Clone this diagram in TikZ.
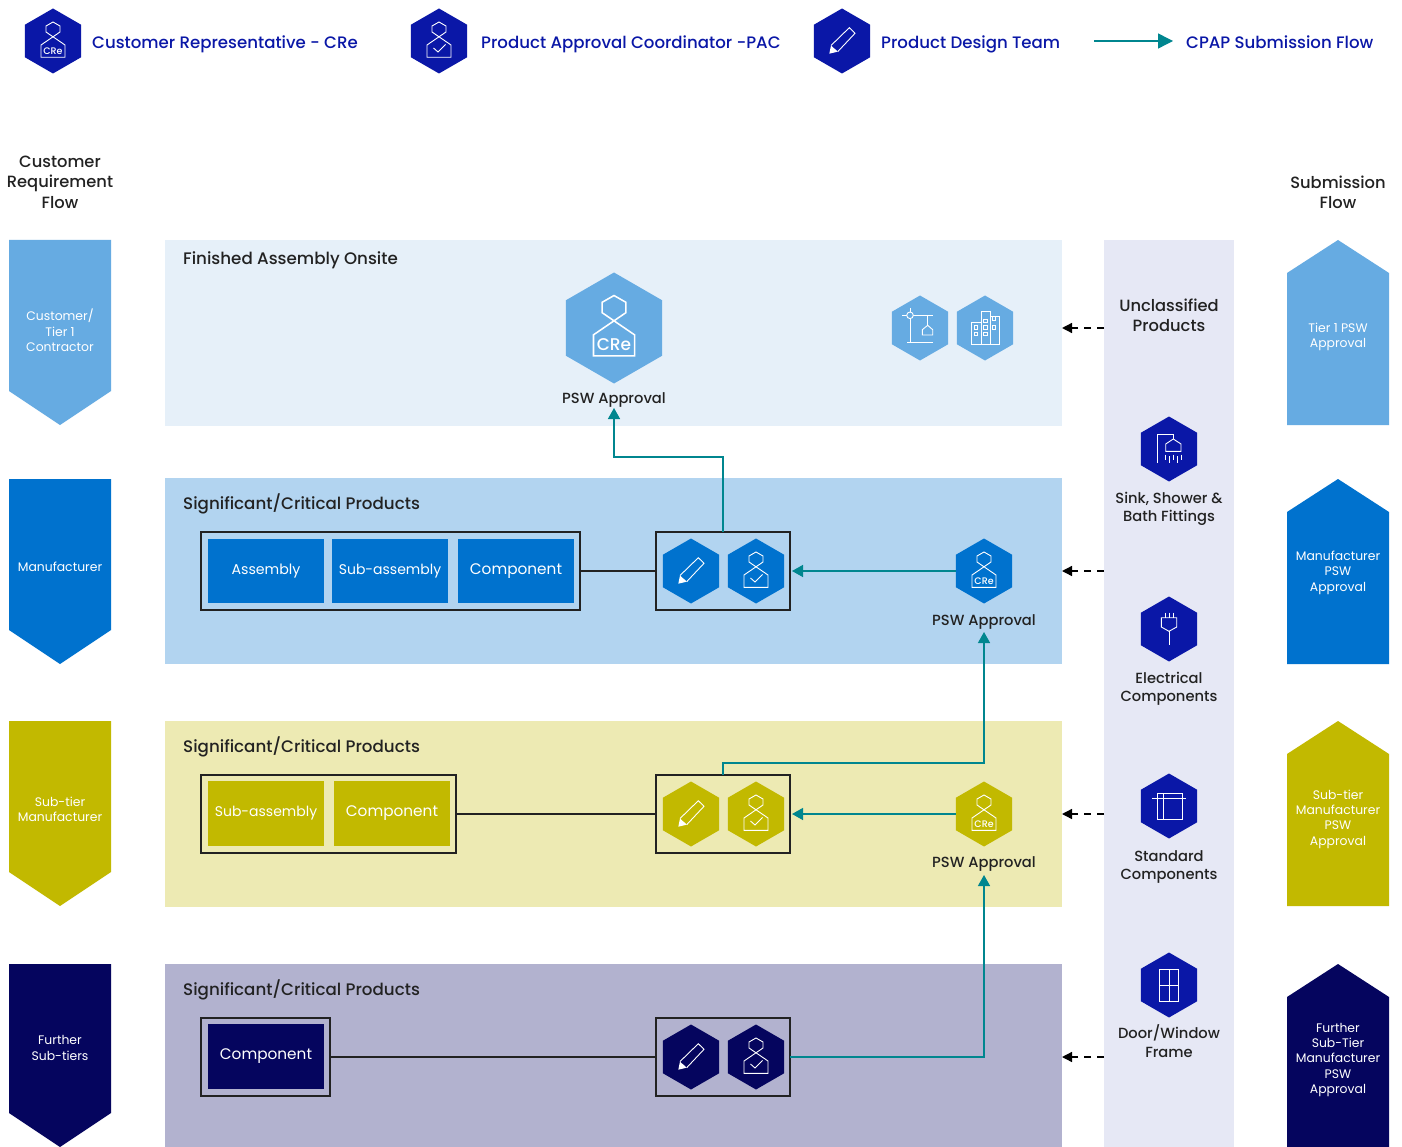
\documentclass[tikz,border=0pt]{standalone}
\usepackage{fontspec}
\setmainfont{Poppins}
\newfontfamily\medf{Poppins Medium}
\usetikzlibrary{shapes.geometric,arrows.meta}
\definecolor{cLight}{HTML}{66ABE2}
\definecolor{cBlue}{HTML}{0072CE}
\definecolor{cOlive}{HTML}{C2B900}
\definecolor{cNavy}{HTML}{05055E}
\definecolor{pLight}{HTML}{E6F0F9}
\definecolor{pBlue}{HTML}{B2D4F0}
\definecolor{pOlive}{HTML}{EDEAB3}
\definecolor{pNavy}{HTML}{B2B2CF}
\definecolor{cLegend}{HTML}{0A17A7}
\definecolor{cCol}{HTML}{E6E8F5}
\definecolor{cTeal}{HTML}{00868F}
\definecolor{cInk}{HTML}{222222}
\newcommand\fsz[1]{\fontsize{#1}{#1}\selectfont}
\newcommand\lowered[2]{\fsz{#1}\raisebox{-3.5pt}{#2}}
\tikzset{
 x=1pt,y=-1pt,
 hexn/.style={regular polygon,regular polygon sides=6,shape border rotate=30,inner sep=0,outer sep=0,minimum size=65pt,draw=none},
 iconl/.style={draw=white,line width=0.9pt,line join=miter},
 legendtxt/.style={anchor=base west,text=cLegend,inner sep=0,font=\medf\fsz{16.6}},
 title/.style={anchor=west,text=cInk,inner sep=0,font=\medf\fsz{16.7}},
 clabel/.style={align=center,text=cInk,inner sep=0,font=\medf\fsz{14.7}},
 flowlabel/.style={align=center,text=white,inner sep=0,font=\fsz{12.4}},
 head/.style={align=center,text=cInk,inner sep=0,font=\medf\fsz{16.3}},
 group/.style={draw=cInk,line width=1.4pt,inner sep=0,outer sep=0},
 part/.style={text=white,inner sep=0,outer sep=0,font=\fsz{14.5}},
 link/.style={draw=cInk,line width=1.4pt},
 teal/.style={draw=cTeal,line width=1.4pt,-{Triangle[length=11pt,width=12pt,fill=cTeal]}},
 dashlink/.style={draw=black,line width=1.4pt,dash pattern=on 7pt off 6pt,-{Triangle[length=10pt,width=10pt,fill=black]}},
}
\newcommand\IPerson[2]{\begin{scope}[shift={(#1.center)},scale=#2,iconl,line width=#2*0.9pt]
 \draw (0,-19) -- (7,-15) -- (7,-9) -- (-12,4) -- (-12,16.3) -- (12,16.3) -- (12,4) -- (-7,-9) -- (-7,-15) -- cycle;
\end{scope}}
\newcommand\ICre[3]{\IPerson{#1}{#2}\begin{scope}[shift={(#1.center)},scale=#2]
 \node[text=white,inner sep=0,font=\medf\fsz{#3}] (#1cre) at (0,9.8) {CRe};
\end{scope}}
\newcommand\ICheck[1]{\IPerson{#1}{1}\begin{scope}[shift={(#1.center)},iconl]
 \draw (-5.5,7) -- (-1,11) -- (6.5,3.5);
\end{scope}}
\newcommand\IPencil[1]{\begin{scope}[shift={(#1.center)},iconl]
 \draw (-11,4.5) -- (7.3,-13.3) -- (13,-7.7) -- (-4.3,10.7);
 \fill[white] (-12.7,12.7) -- (-11,4.5) -- (-9,6.5) -- (-6.5,8.5) -- (-4.3,10.7) -- cycle;
\end{scope}}
\newcommand\IShower[1]{\begin{scope}[shift={(#1.center)},iconl]
 \draw (-11.7,14) -- (-11.7,-15) -- (4.3,-15) -- (4.3,-10);
 \draw (4.3,-10) -- (-3.3,-5) -- (-3.3,2.3) -- (12,2.3) -- (12,-5) -- cycle;
 \foreach \dx/\a/\b in {-3.3/5.7/11,0/7/14,4/5.7/11,8/7/14,12/5.7/11}{\draw (\dx,\a) -- (\dx,\b);}
\end{scope}}
\newcommand\IPlug[1]{\begin{scope}[shift={(#1.center)},iconl]
 \foreach \dx in {-4,0,4}{\draw (\dx,-16.3) -- (\dx,-11.3);}
 \draw (-7.7,-11.3) -- (7.7,-11.3) -- (7.7,-2) -- (0,2.3) -- (-7.7,-2) -- cycle;
 \draw (0,2.3) -- (0,16.3);
\end{scope}}
\newcommand\IStd[1]{\begin{scope}[shift={(#1.center)},iconl]
 \draw (-16.7,-8) -- (16.7,-8);
 \draw (-11.7,-12.3) rectangle (13.7,13);
 \draw (-5.7,-12.3) -- (-5.7,13);
\end{scope}}
\newcommand\IDoor[1]{\begin{scope}[shift={(#1.center)},iconl]
 \draw (-9.3,-16) rectangle (9.3,16.3);
 \draw (0,-16) -- (0,16.3);
 \draw (-9.3,0) -- (9.3,0);
\end{scope}}
\newcommand\ICrane[1]{\begin{scope}[shift={(#1.center)},iconl]
 \draw (-10,-20) -- (-10,14.3);
 \draw (-12.7,14.3) -- (13.3,14.3);
 \draw (-17.7,-12.7) -- (13.3,-12.7);
 \draw[fill=cLight] (-10,-12.7) circle (3.3);
 \draw (7.7,-12.7) -- (7.7,-2.7);
 \draw (7.7,-2.7) -- (2.3,1.7) -- (2.3,7) -- (12.7,7) -- (12.7,1.7) -- cycle;
\end{scope}}
\newcommand\IBuild[1]{\begin{scope}[shift={(#1.center)},iconl]
 \draw (-13.3,-5.7) rectangle (-4,16);
 \draw (-4,-16.7) rectangle (5.3,16);
 \draw (5.3,-12) rectangle (14,16);
 \foreach \wx/\wy in {-9/-0.7,-9/6,0.3/-7.3,0.3/-0.7,0.3/6,9/-9.7,9/-0.7}{\draw (\wx-1.7,\wy-1.7) rectangle (\wx+1.7,\wy+1.7);}
\end{scope}}
\newcommand\Down[4]{\fill[#1] (9,#2) -- (111,#2) -- (111,#3) -- (60,#4) -- (9,#3) -- cycle;}
\newcommand\Up[4]{\fill[#1] (1338,#2) -- (1389,#3) -- (1389,#4) -- (1287,#4) -- (1287,#3) -- cycle;}
\begin{document}
\begin{tikzpicture}
\useasboundingbox (0,0) rectangle (1402,1147);
\fill[white] (0,0) rectangle (1402,1147);
% panels
\fill[pLight] (165,240) rectangle (1062,426);
\fill[pBlue] (165,478) rectangle (1062,664);
\fill[pOlive] (165,721) rectangle (1062,907);
\fill[pNavy] (165,964) rectangle (1062,1147);
\fill[cCol] (1104,240) rectangle (1234,1147);
% flow shapes
\Down{cLight}{240}{391}{425}
\Down{cBlue}{479}{630}{664}
\Down{cOlive}{721}{872}{906}
\Down{cNavy}{964}{1113}{1147}
\Up{cLight}{240}{273}{425}
\Up{cBlue}{479}{512}{664}
\Up{cOlive}{721}{754}{906}
\Up{cNavy}{964}{997}{1147}
% legend
\node[hexn,fill=cLegend] (lgA) at (53,41) {};
\ICre{lgA}{1}{9.5}
\node[legendtxt] (lgAt) at (92,48.7) {Customer Representative - CRe};
\node[hexn,fill=cLegend] (lgB) at (439,41) {};
\ICheck{lgB}
\node[legendtxt] (lgBt) at (481,48.7) {Product Approval Coordinator -PAC};
\node[hexn,fill=cLegend] (lgC) at (842,41) {};
\IPencil{lgC}
\node[legendtxt] (lgCt) at (881,48.7) {Product Design Team};
\node[legendtxt] (lgDt) at (1186,48.7) {CPAP Submission Flow};
\coordinate (lgDs) at (1094,41);
\coordinate (lgDe) at (1173,41);
\draw[draw=cTeal,line width=1.4pt,-{Triangle[length=15pt,width=15pt,fill=cTeal]}] (lgDs) -- (lgDe);
% heads
\node[head] (hL) at (60,182.5) {Customer\\[4pt]Requirement\\[4pt]Flow};
\node[head] (hR) at (1338,192.5) {Submission\\[4pt]Flow};
% flow labels
\node[flowlabel] (fl1) at (60,330.5) {Customer/\\[3pt]Tier 1\\[3pt]Contractor};
\node[flowlabel] (fl2) at (60,566.5) {Manufacturer};
\node[flowlabel] (fl3) at (60,809.5) {Sub-tier\\[3pt]Manufacturer};
\node[flowlabel] (fl4) at (60,1048) {Further\\[3pt]Sub-tiers};
\node[flowlabel] (fr1) at (1338,337) {Tier 1 PSW\\[3pt]Approval};
\node[flowlabel] (fr2) at (1338,572.5) {Manufacturer\\[3pt]PSW\\[3pt]Approval};
\node[flowlabel] (fr3) at (1338,819) {Sub-tier\\[3pt]Manufacturer\\[3pt]PSW\\[3pt]Approval};
\node[flowlabel] (fr4) at (1338,1060) {Further\\[3pt]Sub-Tier\\[3pt]Manufacturer\\[3pt]PSW\\[3pt]Approval};
% titles
\node[title] (t1) at (183,260) {Finished Assembly Onsite};
\node[title] (t2) at (183,504) {Significant/Critical Products};
\node[title] (t3) at (183,747) {Significant/Critical Products};
\node[title] (t4) at (183,990) {Significant/Critical Products};
% finished assembly
\node[hexn,fill=cLight,minimum size=111pt] (creA) at (614,328) {};
\ICre{creA}{1.71}{17}
\node[clabel] (pswA) at (614,400) {PSW Approval};
\coordinate (pswAtip) at (614,408);
\node[hexn,fill=cLight] (crane) at (920,328) {};
\ICrane{crane}
\node[hexn,fill=cLight] (build) at (985,328) {};
\IBuild{build}
% row 2
\node[group,minimum width=379pt,minimum height=78pt] (g2) at (390.5,571) {};
\node[part,fill=cBlue,minimum width=116pt,minimum height=64pt] (p21) at (266,571) {\lowered{14.2}{Assembly}};
\node[part,fill=cBlue,minimum width=116pt,minimum height=64pt] (p22) at (390,571) {\lowered{14}{Sub-assembly}};
\node[part,fill=cBlue,minimum width=116pt,minimum height=64pt] (p23) at (516,571) {\lowered{15.3}{Component}};
\node[group,minimum width=134pt,minimum height=78pt] (b2) at (723,571) {};
\node[hexn,fill=cBlue] (d2) at (691,571) {};
\IPencil{d2}
\node[hexn,fill=cBlue] (a2) at (756,571) {};
\ICheck{a2}
\node[hexn,fill=cBlue] (c2) at (984,571) {};
\ICre{c2}{1}{9.5}
\node[clabel] (psw2) at (984,622) {PSW Approval};
\coordinate (psw2tip) at (984,632);
% row 3
\node[group,minimum width=255pt,minimum height=78pt] (g3) at (328.5,814) {};
\node[part,fill=cOlive,minimum width=116pt,minimum height=65pt] (p31) at (266,813.5) {\lowered{14}{Sub-assembly}};
\node[part,fill=cOlive,minimum width=116pt,minimum height=65pt] (p32) at (392,813.5) {\lowered{15.3}{Component}};
\node[group,minimum width=134pt,minimum height=78pt] (b3) at (723,814) {};
\node[hexn,fill=cOlive] (d3) at (691,814) {};
\IPencil{d3}
\node[hexn,fill=cOlive] (a3) at (756,814) {};
\ICheck{a3}
\node[hexn,fill=cOlive] (c3) at (984,814) {};
\ICre{c3}{1}{9.5}
\node[clabel] (psw3) at (984,864) {PSW Approval};
\coordinate (psw3tip) at (984,875);
% row 4
\node[group,minimum width=129pt,minimum height=78pt] (g4) at (265.5,1057) {};
\node[part,fill=cNavy,minimum width=116pt,minimum height=65pt] (p41) at (266,1056.5) {\lowered{15.3}{Component}};
\node[group,minimum width=134pt,minimum height=78pt] (b4) at (723,1057) {};
\node[hexn,fill=cNavy] (d4) at (691,1057) {};
\IPencil{d4}
\node[hexn,fill=cNavy] (a4) at (756,1057) {};
\ICheck{a4}
% unclassified column
\node[head] (uc) at (1169,315.5) {Unclassified\\[4pt]Products};
\node[hexn,fill=cLegend] (s1) at (1169,449) {};
\IShower{s1}
\node[clabel] (s1t) at (1169,509) {Sink, Shower \&\\[3.4pt]Bath Fittings};
\node[hexn,fill=cLegend] (s2) at (1169,629) {};
\IPlug{s2}
\node[clabel] (s2t) at (1169,689) {Electrical\\[3.4pt]Components};
\node[hexn,fill=cLegend] (s3) at (1169,806) {};
\IStd{s3}
\node[clabel] (s3t) at (1169,867) {Standard\\[3.4pt]Components};
\node[hexn,fill=cLegend] (s4) at (1169,985) {};
\IDoor{s4}
\node[clabel] (s4t) at (1169,1041.5) {Door/Window\\[4.2pt]Frame};
% connectors
\draw[link] (g2.east) -- (b2.west);
\draw[link] (g3.east) -- (b3.west);
\draw[link] (g4.east) -- (b4.west);
\coordinate (e1) at (614,457);
\coordinate (e2) at (984,763);
\draw[teal] (b2.north) |- (e1) -- (pswAtip);
\draw[teal] (b3.north) |- (e2) -- (psw2tip);
\draw[teal] (b4.east) -| (psw3tip);
\draw[teal] (c2.west) -- ([xshift=2pt]b2.east);
\draw[teal] (c3.west) -- ([xshift=2pt]b3.east);
\foreach \yy/\n in {328/a,571/b,814/c,1057/d}{
 \coordinate (ds\n) at (1104,\yy);
 \coordinate (de\n) at (1062,\yy);
 \draw[dashlink] (ds\n) -- (de\n);
}
\end{tikzpicture}
\end{document}
